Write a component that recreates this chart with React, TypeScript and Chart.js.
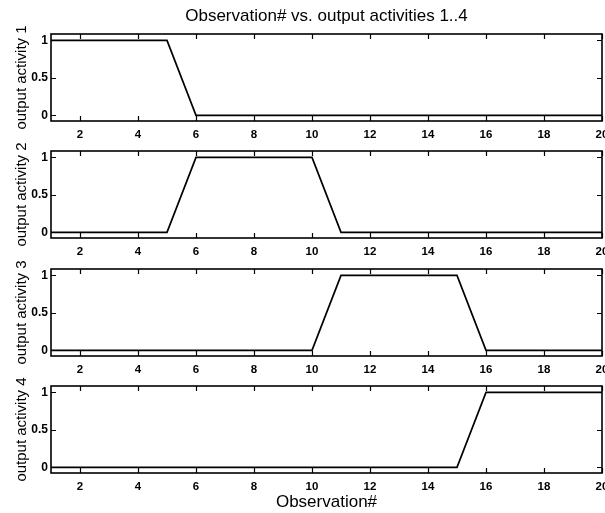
import React, { useEffect, useRef } from "react";
import { Chart, registerables } from "chart.js";

Chart.register(...registerables);

// Observation numbers along the shared horizontal axis
const observations = [1, 2, 3, 4, 5, 6, 7, 8, 9, 10, 11, 12, 13, 14, 15, 16, 17, 18, 19, 20];

// Output activity of each of the four units per observation
const activity1 = [1, 1, 1, 1, 1, 0, 0, 0, 0, 0, 0, 0, 0, 0, 0, 0, 0, 0, 0, 0];
const activity2 = [0, 0, 0, 0, 0, 1, 1, 1, 1, 1, 0, 0, 0, 0, 0, 0, 0, 0, 0, 0];
const activity3 = [0, 0, 0, 0, 0, 0, 0, 0, 0, 0, 1, 1, 1, 1, 1, 0, 0, 0, 0, 0];
const activity4 = [0, 0, 0, 0, 0, 0, 0, 0, 0, 0, 0, 0, 0, 0, 0, 1, 1, 1, 1, 1];

const xTickValues = [2, 4, 6, 8, 10, 12, 14, 16, 18, 20];
const yTickValues = [0, 0.5, 1];
const yTickLabels = ["0", "0.5", "1"];

const panelLabels = ["output activity 1", "output activity 2", "output activity 3", "output activity 4"];
const figureTitle = "Observation# vs. output activities 1..4";
const xAxisTitle = "Observation#";

const panelSeries = [activity1, activity2, activity3, activity4];

// Figure geometry
const W = 605;
const H = 513;
const PLOT_LEFT = 51;
const PLOT_RIGHT = 602;
const PANEL_TOPS = [34, 151, 269, 386];
const PANEL_HEIGHT = 87;
const X_MIN = 1;
const X_MAX = 20;
const Y_MIN = -0.075;
const Y_MAX = 1.085;
const FONT = "'Liberation Sans', Arial, Helvetica, sans-serif";

// Boxed axes with inward tick marks on all four sides
const framePlugin = {
  id: "boxedAxes",
  afterDraw(chart: any) {
    const { ctx, chartArea: a, scales } = chart;
    const xs = scales.x;
    const ys = scales.y;
    const tick = 5;
    ctx.save();
    ctx.strokeStyle = "#000";
    ctx.lineWidth = 1.6;
    ctx.strokeRect(a.left, a.top, a.right - a.left, a.bottom - a.top);
    ctx.lineWidth = 1.2;
    ctx.beginPath();
    for (const v of xTickValues) {
      const px = Math.round(xs.getPixelForValue(v)) + 0.5;
      ctx.moveTo(px, a.bottom);
      ctx.lineTo(px, a.bottom - tick);
      ctx.moveTo(px, a.top);
      ctx.lineTo(px, a.top + tick);
    }
    for (const v of yTickValues) {
      const py = Math.round(ys.getPixelForValue(v)) + 0.5;
      ctx.moveTo(a.left, py);
      ctx.lineTo(a.left + tick, py);
      ctx.moveTo(a.right, py);
      ctx.lineTo(a.right - tick, py);
    }
    ctx.stroke();
    ctx.restore();
  },
};

function buildConfig(i: number): any {
  const isFirst = i === 0;
  const isLast = i === panelSeries.length - 1;
  const top = PANEL_TOPS[i];
  const bottom = top + PANEL_HEIGHT;
  const xAxisHeight = isLast ? H - bottom : 20;
  const values = panelSeries[i];

  return {
    type: "line",
    data: {
      datasets: [
        {
          data: observations.map((x, k) => ({ x, y: values[k] })),
          borderColor: "#000",
          borderWidth: 1.7,
          pointRadius: 0,
          fill: false,
          tension: 0,
        },
      ],
    },
    options: {
      responsive: false,
      animation: false,
      events: [],
      layout: {
        padding: {
          left: 0,
          right: W - PLOT_RIGHT,
          top: isFirst ? 0 : top,
          bottom: isLast ? 0 : H - bottom - xAxisHeight,
        },
      },
      plugins: {
        legend: { display: false },
        tooltip: { enabled: false },
        title: {
          display: isFirst,
          text: figureTitle,
          fullSize: false,
          color: "#000",
          font: { family: FONT, size: 17, weight: "normal" },
          padding: { top: 6, bottom: 7.6 },
        },
      },
      scales: {
        x: {
          type: "linear",
          min: X_MIN,
          max: X_MAX,
          afterBuildTicks: (s: any) => {
            s.ticks = xTickValues.map((v) => ({ value: v }));
          },
          afterFit: (s: any) => {
            s.height = xAxisHeight;
            s.paddingLeft = 0;
            s.paddingRight = 0;
          },
          grid: { display: false, drawTicks: false },
          border: { display: false },
          ticks: {
            autoSkip: false,
            maxRotation: 0,
            padding: 7,
            color: "#000",
            font: { family: FONT, size: 11.5, weight: "bold" },
          },
          title: {
            display: isLast,
            text: xAxisTitle,
            color: "#000",
            font: { family: FONT, size: 17, weight: "normal" },
            padding: { top: 0, bottom: 0 },
          },
        },
        y: {
          type: "linear",
          min: Y_MIN,
          max: Y_MAX,
          afterBuildTicks: (s: any) => {
            s.ticks = yTickValues.map((v) => ({ value: v }));
          },
          afterFit: (s: any) => {
            s.width = PLOT_LEFT;
            s.paddingTop = 0;
            s.paddingBottom = 0;
          },
          grid: { display: false, drawTicks: false },
          border: { display: false },
          ticks: {
            padding: 3,
            color: "#000",
            font: { family: FONT, size: 12, weight: "bold" },
            callback: (v: number) => {
              const k = yTickValues.indexOf(v);
              return k >= 0 ? yTickLabels[k] : "";
            },
          },
          title: {
            display: true,
            text: panelLabels[i],
            color: "#000",
            font: { family: FONT, size: 15, weight: "normal" },
            padding: { top: 13, bottom: 0 },
          },
        },
      },
    },
    plugins: [framePlugin],
  };
}

export default function App() {
  const refs = [
    useRef<HTMLCanvasElement>(null),
    useRef<HTMLCanvasElement>(null),
    useRef<HTMLCanvasElement>(null),
    useRef<HTMLCanvasElement>(null),
  ];

  useEffect(() => {
    const charts = refs.map((r, i) => new Chart(r.current as HTMLCanvasElement, buildConfig(i)));
    return () => charts.forEach((c) => c.destroy());
  }, []);

  return (
    <div style={{ position: "fixed", left: 0, top: 0, width: W, height: H, background: "#fff" }}>
      {refs.map((r, i) => (
        <canvas
          key={i}
          ref={r}
          width={W}
          height={H}
          style={{ position: "absolute", left: 0, top: 0, width: W, height: H }}
        />
      ))}
    </div>
  );
}
